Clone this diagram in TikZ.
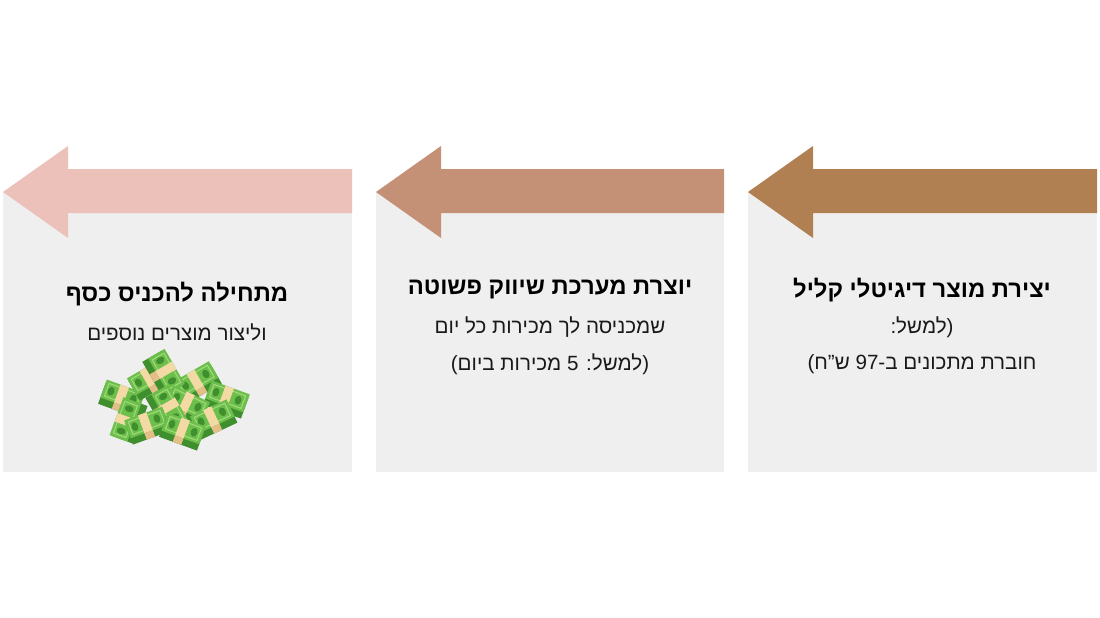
\documentclass[tikz,border=0pt]{standalone}
\usepackage{fontspec}
\setmainfont{Liberation Sans}
\newfontfamily\hebfont[Script=Hebrew]{Liberation Sans}
\TeXXeTstate=1
\definecolor{arrowbrown}{RGB}{176,127,82}
\definecolor{arrowtan}{RGB}{196,145,118}
\definecolor{arrowrose}{RGB}{235,193,185}
\definecolor{panelgray}{RGB}{239,239,239}
\definecolor{billgreen}{RGB}{108,191,75}
\definecolor{billdark}{RGB}{63,143,46}
\definecolor{billlight}{RGB}{164,218,126}
\definecolor{billband}{RGB}{243,217,164}

\tikzset{
  panel/.style={fill=panelgray},
  heading/.style={font=\hebfont\bfseries\fontsize{23.8}{28}\selectfont, text=black},
  bodytext/.style={font=\hebfont\fontsize{20.6}{25}\selectfont, text=black!90},
}

% arrow on top of a panel: tip x, right end x, colour
\newcommand{\panelarrow}[3]{
  \fill[#3] (#1,192) -- (#1+65,146) -- (#1+65,169) -- (#2,169) -- (#2,213)
    -- (#1+65,213) -- (#1+65,238) -- cycle;
}
% one bundle of bills: x, y, angle
\newcommand{\cashbundle}[3]{
  \begin{scope}[shift={(#1,#2)},rotate=#3,scale=1.12]
    \fill[billdark] (-18,-7) rectangle (18,13);
    \fill[billgreen] (-18,-10) rectangle (18,7);
    \draw[billlight, line width=1pt] (-15,-7.5) rectangle (15,4.5);
    \fill[billband] (-5,-10) rectangle (3,7);
    \fill[billband!70!brown] (-5,7) rectangle (3,13);
    \fill[billdark] (10,-1.5) ellipse (3 and 4);
    \fill[billdark] (-11,-1.5) ellipse (3 and 4);
  \end{scope}
}

\begin{document}
\begin{tikzpicture}[x=1pt,y=-1pt]
  \useasboundingbox[fill=white] (0,0) rectangle (1100,618);

  % panels
  \fill[panel] (3,192) rectangle (352,472);
  \fill[panel] (376,192) rectangle (724,472);
  \fill[panel] (748,192) rectangle (1097,472);

  \panelarrow{3}{352}{arrowrose}
  \panelarrow{376}{724}{arrowtan}
  \panelarrow{748}{1097}{arrowbrown}

  % right panel
  \node[heading] (producthead) at (922,290) {\beginR יצירת מוצר דיגיטלי קליל\endR};
  \node[bodytext] (productex) at (922,327) {\beginR (למשל:\endR};
  \node[bodytext] (productprice) at (922,364) {\beginR חוברת מתכונים ב-\beginL97\endL{} ש”ח)\endR};

  % middle panel
  \node[heading] (markethead) at (550,289) {\beginR יוצרת מערכת שיווק פשוטה\endR};
  \node[bodytext] (marketsales) at (550,327) {\beginR שמכניסה לך מכירות כל יום\endR};
  \node[bodytext] (marketex) at (550,364) {\beginR (למשל: \beginL5\endL{} מכירות ביום)\endR};

  % left panel
  \node[heading] (incomehead) at (177,294) {\beginR מתחילה להכניס כסף\endR};
  \node[bodytext] (incomemore) at (177,332) {\beginR וליצור מוצרים נוספים\endR};

  % pile of money
  \cashbundle{122}{397}{-20}
  \cashbundle{127}{420}{70}
  \cashbundle{150}{378}{30}
  \cashbundle{197}{381}{30}
  \cashbundle{227}{398}{-20}
  \cashbundle{165}{372}{-60}
  \cashbundle{187}{404}{-25}
  \cashbundle{168}{408}{-60}
  \cashbundle{147}{424}{20}
  \cashbundle{213}{418}{25}
  \cashbundle{183}{430}{-20}
\end{tikzpicture}
\end{document}
